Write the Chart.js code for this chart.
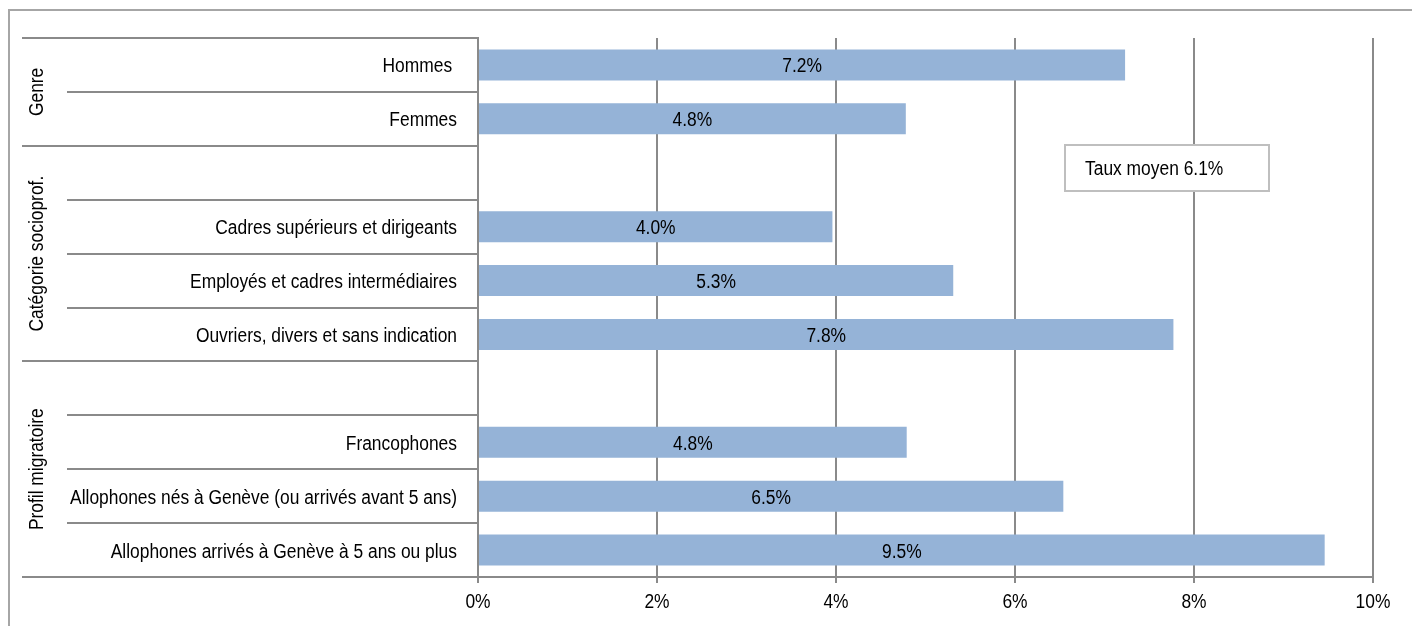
<!DOCTYPE html>
<html>
<head>
<meta charset="utf-8">
<script src="https://cdn.jsdelivr.net/npm/chart.js@4/dist/chart.umd.min.js"></script>
<style>
  html, body { margin: 0; padding: 0; background: #ffffff; }
  canvas { display: block; }
</style>
</head>
<body>
<canvas id="c" width="1412" height="626"></canvas>
<script>
// ---- Data ----
const categories = [
  "Hommes ",
  "Femmes",
  "",
  "Cadres supérieurs et dirigeants",
  "Employés et cadres intermédiaires",
  "Ouvriers, divers et sans indication",
  "",
  "Francophones",
  "Allophones nés à Genève (ou arrivés avant 5 ans)",
  "Allophones arrivés à Genève à 5 ans ou plus"
];
const rates = [7.23, 4.78, null, 3.96, 5.31, 7.77, null, 4.79, 6.54, 9.46];
const groupNames = ["Genre", "Catégorie socioprof.", "Profil migratoire"];
const groupStart = [0, 2, 6];   // first category index of each group
const groupEnd   = [1, 5, 9];   // last category index of each group
const xTicks = [0, 2, 4, 6, 8, 10];
const averageRate = [6.1];

const FONT = '"Liberation Sans", Arial, sans-serif';
const FSIZE = 20;
const SX = 0.87;          // horizontal condensing of text (narrow face look)
const LINE = '#8a8a8a';

const decorPlugin = {
  id: 'decor',
  beforeInit(chart) {
    const ctx = chart.ctx;
    const orig = ctx.fillText;
    ctx.fillText = function (text, x, y, maxWidth) {
      this.save();
      this.translate(x, y);
      this.scale(SX, 1);
      if (maxWidth !== undefined) orig.call(this, text, 0, 0, maxWidth / SX);
      else orig.call(this, text, 0, 0);
      this.restore();
    };
  },
  beforeDraw(chart) {
    const ctx = chart.ctx;
    ctx.save();
    ctx.fillStyle = '#ffffff';
    ctx.fillRect(0, 0, chart.width, chart.height);
    // outer frame
    ctx.strokeStyle = '#a6a6a6';
    ctx.lineWidth = 2;
    ctx.beginPath();
    ctx.moveTo(9, chart.height + 5);
    ctx.lineTo(9, 10);
    ctx.lineTo(chart.width + 5, 10);
    ctx.stroke();
    ctx.restore();
  },
  afterDraw(chart) {
    const ctx = chart.ctx;
    const y = chart.scales.y;
    const area = chart.chartArea;
    const n = categories.length;
    const boundary = (i) => {
      if (i <= 0) return area.top;
      if (i >= n) return area.bottom;
      return (y.getPixelForValue(i - 1) + y.getPixelForValue(i)) / 2;
    };
    ctx.save();
    ctx.strokeStyle = LINE;
    ctx.lineWidth = 2;
    for (let i = 0; i <= n; i++) {
      const isGroupEdge = i === 0 || i === n || groupStart.includes(i);
      const x0 = isGroupEdge ? 22 : 67;
      const py = Math.round(boundary(i));
      ctx.beginPath();
      ctx.moveTo(x0, py);
      ctx.lineTo(area.left, py);
      ctx.stroke();
    }
    // group labels
    ctx.fillStyle = '#000000';
    ctx.font = FSIZE + 'px ' + FONT;
    ctx.textAlign = 'center';
    ctx.textBaseline = 'middle';
    groupNames.forEach((g, k) => {
      const top = boundary(groupStart[k]);
      const bot = boundary(groupEnd[k] + 1);
      ctx.save();
      ctx.translate(37, (top + bot) / 2);
      ctx.rotate(-Math.PI / 2);
      ctx.fillText(g, 0, 0);
      ctx.restore();
    });
    // average box
    const bx = 1065, by = 145, bw = 204, bh = 46;
    ctx.fillStyle = '#ffffff';
    ctx.fillRect(bx, by, bw, bh);
    ctx.strokeStyle = '#bfbfbf';
    ctx.lineWidth = 2;
    ctx.strokeRect(bx, by, bw, bh);
    ctx.fillStyle = '#000000';
    ctx.textAlign = 'left';
    ctx.fillText('Taux moyen ' + averageRate[0].toFixed(1) + '%', bx + 20, by + bh / 2 + 1);
    ctx.restore();
  },
  afterDatasetsDraw(chart) {
    const ctx = chart.ctx;
    const meta = chart.getDatasetMeta(0);
    ctx.save();
    ctx.fillStyle = '#000000';
    ctx.font = FSIZE + 'px ' + FONT;
    ctx.textAlign = 'center';
    ctx.textBaseline = 'middle';
    meta.data.forEach((bar, i) => {
      const v = rates[i];
      if (v === null || v === undefined) return;
      const p = bar.getProps(['x', 'y', 'base'], true);
      ctx.fillText(v.toFixed(1) + '%', (p.x + p.base) / 2, p.y + 2);
    });
    ctx.restore();
  }
};

new Chart(document.getElementById('c'), {
  type: 'bar',
  data: {
    labels: categories,
    datasets: [{
      data: rates,
      backgroundColor: '#95b3d7',
      borderWidth: 0,
      categoryPercentage: 1.0,
      barPercentage: 0.575
    }]
  },
  plugins: [decorPlugin],
  options: {
    indexAxis: 'y',
    responsive: false,
    animation: false,
    devicePixelRatio: 1,
    layout: { padding: { left: 0, top: 38, right: 39, bottom: 0 } },
    plugins: {
      legend: { display: false },
      tooltip: { enabled: false },
      title: { display: false }
    },
    scales: {
      x: {
        type: 'linear',
        min: xTicks[0],
        max: xTicks[xTicks.length - 1],
        afterBuildTicks(scale) { scale.ticks = xTicks.map(v => ({ value: v })); },
        afterFit(scale) { scale.height = 49; },
        ticks: {
          callback: (v) => v + '%',
          color: '#000000',
          font: { family: FONT, size: FSIZE },
          padding: 7,
          maxRotation: 0
        },
        grid: {
          color: LINE,
          lineWidth: 2,
          drawTicks: true,
          tickLength: 6,
          tickColor: LINE
        },
        border: { display: true, color: LINE, width: 2 }
      },
      y: {
        type: 'category',
        afterFit(scale) { scale.width = 478; },
        ticks: {
          color: '#000000',
          font: { family: FONT, size: FSIZE },
          padding: 21,
          labelOffset: 2,
          autoSkip: false
        },
        grid: { display: false, drawTicks: false },
        border: { display: true, color: LINE, width: 2 }
      }
    }
  }
});
</script>
</body>
</html>
